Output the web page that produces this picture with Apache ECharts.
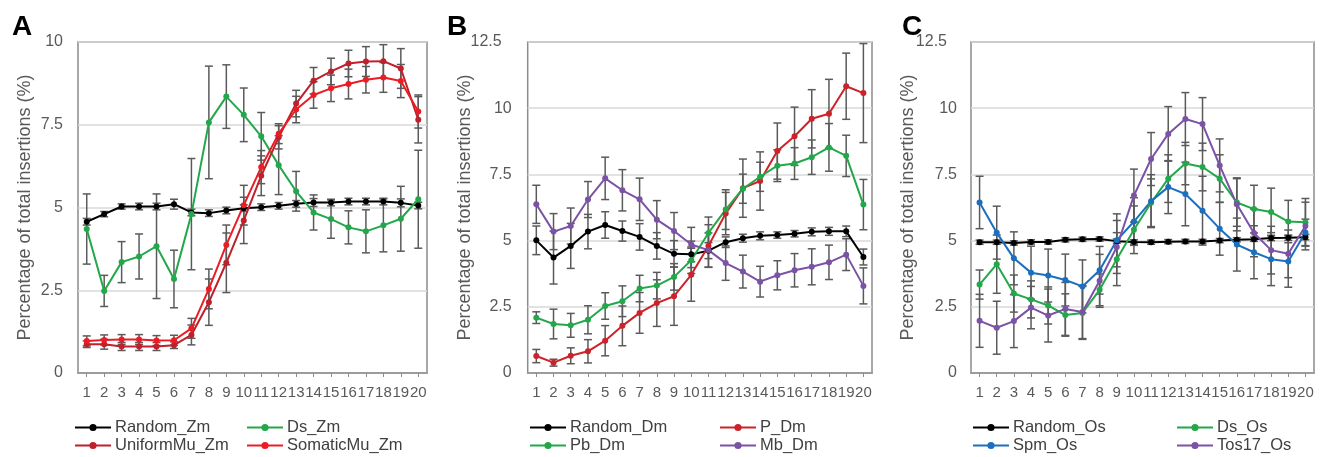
<!DOCTYPE html>
<html>
<head>
<meta charset="utf-8">
<script src="https://cdn.jsdelivr.net/npm/echarts/dist/echarts.min.js"></script>
<style>
html,body{margin:0;padding:0;background:#fff;}
#chart{width:1322px;height:457px;}
</style>
</head>
<body>
<div id="chart"></div>
<script>
// ---------- data ----------
const categories = ['1','2','3','4','5','6','7','8','9','10','11','12','13','14','15','16','17','18','19','20'];
const yAxisTitle = 'Percentage of total insertions (%)';
const panelLetters = ['A','B','C'];

// Panel A (Zm)
const randomZm     = [4.57,4.80,5.03,5.03,5.03,5.10,4.85,4.83,4.91,4.98,5.01,5.05,5.11,5.15,5.15,5.18,5.18,5.18,5.14,5.06];
const randomZmErr  = [0.10,0.08,0.08,0.10,0.10,0.15,0.10,0.10,0.10,0.10,0.10,0.10,0.10,0.12,0.10,0.10,0.10,0.10,0.12,0.10];
const dsZm         = [4.35,2.48,3.35,3.52,3.83,2.84,4.80,7.57,8.35,7.80,7.15,6.28,5.49,4.85,4.65,4.40,4.28,4.46,4.66,5.25];
const dsZmErr      = [1.06,0.47,0.62,0.68,1.58,0.87,1.68,1.70,0.96,0.81,0.72,0.89,0.60,0.53,0.58,0.50,0.65,0.80,0.98,1.48];
const uniformZm    = [0.87,0.87,0.80,0.80,0.80,0.84,1.15,2.14,3.33,4.61,5.96,7.12,8.14,8.83,9.11,9.35,9.41,9.42,9.20,7.65];
const uniformZmErr = [0.10,0.15,0.12,0.12,0.12,0.10,0.30,0.70,0.90,0.70,0.60,0.35,0.40,0.40,0.40,0.40,0.45,0.50,0.60,0.70];
const somaticZm    = [0.97,1.00,1.01,1.01,0.98,0.99,1.35,2.54,3.87,5.07,6.22,7.23,7.96,8.40,8.60,8.73,8.86,8.93,8.82,7.90];
const somaticZmErr = [0.15,0.15,0.15,0.15,0.15,0.15,0.30,0.60,0.60,0.60,0.50,0.30,0.40,0.40,0.40,0.45,0.40,0.45,0.50,0.50];

// Panel B (Dm)
const randomDm     = [5.01,4.36,4.80,5.34,5.59,5.36,5.14,4.80,4.50,4.48,4.62,4.94,5.09,5.18,5.21,5.26,5.33,5.35,5.35,4.38];
const randomDmErr  = [0.54,1.00,0.85,0.65,0.50,0.38,0.50,0.50,0.50,0.50,0.30,0.20,0.15,0.15,0.12,0.12,0.15,0.15,0.20,0.30];
const pDm          = [0.64,0.39,0.65,0.82,1.22,1.78,2.27,2.64,2.90,3.71,4.80,6.02,6.98,7.25,8.38,8.94,9.60,9.79,10.83,10.57];
const pDmErr       = [0.25,0.13,0.30,0.44,0.57,0.75,0.77,0.88,1.10,1.00,0.80,0.80,1.10,1.10,1.06,1.10,1.10,1.30,1.25,1.87];
const pbDm         = [2.09,1.85,1.80,2.01,2.53,2.71,3.19,3.30,3.63,4.26,5.29,6.17,6.96,7.41,7.83,7.91,8.15,8.52,8.20,6.36];
const pbDmErr      = [0.22,0.56,0.45,0.53,0.50,0.58,0.50,0.50,0.50,0.50,0.60,0.75,0.55,0.55,0.60,0.60,0.65,0.90,0.78,0.95];
const mbDm         = [6.37,5.34,5.55,6.55,7.35,6.90,6.56,5.79,5.36,4.85,4.64,4.15,3.83,3.45,3.69,3.88,4.01,4.18,4.47,3.29];
const mbDmErr      = [0.72,0.68,0.68,0.68,0.80,0.78,0.80,0.72,0.70,0.65,0.65,0.65,0.62,0.58,0.55,0.63,0.68,0.65,0.60,0.68];

// Panel C (Os)
const randomOs     = [4.94,4.94,4.91,4.95,4.95,5.03,5.05,5.06,4.98,4.95,4.94,4.96,4.97,4.97,5.00,5.03,5.05,5.10,5.11,5.13];
const randomOsErr  = [0.08,0.08,0.08,0.08,0.08,0.08,0.08,0.08,0.08,0.08,0.08,0.08,0.08,0.08,0.08,0.08,0.08,0.10,0.10,0.10];
const dsOs         = [3.34,4.11,3.00,2.78,2.55,2.19,2.27,3.14,4.30,5.41,6.43,7.34,7.91,7.78,7.34,6.44,6.19,6.08,5.72,5.69];
const dsOsErr      = [0.55,1.10,0.70,0.70,0.70,0.80,1.00,0.60,1.00,0.90,0.90,0.90,0.80,0.90,0.90,0.90,0.90,0.90,0.80,0.90];
const spmOs        = [6.44,5.30,4.33,3.79,3.68,3.51,3.27,3.88,5.01,5.72,6.49,7.02,6.76,6.13,5.45,4.85,4.56,4.30,4.21,5.31];
const spmOsErr     = [0.99,1.00,1.00,1.00,1.00,0.98,1.00,0.90,1.00,0.90,1.00,1.00,1.20,1.30,1.00,1.00,1.00,1.00,0.97,0.50];
const tosOs        = [1.97,1.71,1.96,2.47,2.17,2.42,2.30,3.48,4.76,6.70,8.08,9.03,9.59,9.40,7.84,6.37,5.29,4.64,4.50,5.55];
const tosOsErr     = [1.00,1.00,1.00,0.80,1.00,1.00,1.00,1.00,1.00,1.00,1.00,1.03,1.00,1.00,1.00,1.00,0.90,0.90,0.90,0.90];

const yMax = [10, 12.5, 12.5];

// ---------- styling / layout ----------
const C_BLACK = '#000000', C_GREEN = '#22a84a', C_DRED = '#c0202b', C_RED = '#ec1c24',
      C_PRED = '#cc2229', C_PURPLE = '#7b52a6', C_BLUE = '#1b6fbf';
const FONT = 'Liberation Sans, Arial, sans-serif';
const grids = [
  {left: 78,    top: 42, width: 349,   height: 331},
  {left: 527.7, top: 42, width: 344.3, height: 331},
  {left: 971,   top: 42, width: 343,   height: 331}
];

const panels = [
  [
    {name:'Random_Zm', v: randomZm, e: randomZmErr, c: C_BLACK, col:0,row:0},
    {name:'Ds_Zm', v: dsZm, e: dsZmErr, c: C_GREEN, col:1,row:0},
    {name:'UniformMu_Zm', v: uniformZm, e: uniformZmErr, c: C_DRED, col:0,row:1},
    {name:'SomaticMu_Zm', v: somaticZm, e: somaticZmErr, c: C_RED, col:1,row:1}
  ],
  [
    {name:'Random_Dm', v: randomDm, e: randomDmErr, c: C_BLACK, col:0,row:0},
    {name:'P_Dm', v: pDm, e: pDmErr, c: C_PRED, col:1,row:0},
    {name:'Pb_Dm', v: pbDm, e: pbDmErr, c: C_GREEN, col:0,row:1},
    {name:'Mb_Dm', v: mbDm, e: mbDmErr, c: C_PURPLE, col:1,row:1}
  ],
  [
    {name:'Random_Os', v: randomOs, e: randomOsErr, c: C_BLACK, col:0,row:0},
    {name:'Ds_Os', v: dsOs, e: dsOsErr, c: C_GREEN, col:1,row:0},
    {name:'Spm_Os', v: spmOs, e: spmOsErr, c: C_BLUE, col:0,row:1},
    {name:'Tos17_Os', v: tosOs, e: tosOsErr, c: C_PURPLE, col:1,row:1}
  ]
];
const legendCols = [[74, 246], [529, 719], [972, 1176]];
const legendRows = [419, 437];
const nameGaps = [44, 54, 54];
const labelMargins = [15, 16, 14];
const letterLeft = [7, 442, 897];

const series = [];
const legends = [];
const titles = [];
panels.forEach((p, pi) => {
  // error bars
  p.forEach(s => {
    series.push({
      type: 'custom', xAxisIndex: pi, yAxisIndex: pi, silent: true, z: 1,
      clip: false,
      data: s.v.map((v, i) => [i, v - s.e[i], v + s.e[i]]),
      encode: {x: 0, y: [1, 2]},
      renderItem: function (params, api) {
        const x = api.value(0);
        const lo = api.coord([x, api.value(1)]);
        const hi = api.coord([x, api.value(2)]);
        const w = 4;
        const st = {stroke: '#5a5a5a', lineWidth: 1.5};
        return {type: 'group', children: [
          {type: 'line', shape: {x1: lo[0], y1: lo[1], x2: hi[0], y2: hi[1]}, style: st},
          {type: 'line', shape: {x1: lo[0]-w, y1: lo[1], x2: lo[0]+w, y2: lo[1]}, style: st},
          {type: 'line', shape: {x1: hi[0]-w, y1: hi[1], x2: hi[0]+w, y2: hi[1]}, style: st}
        ]};
      }
    });
  });
  // lines
  p.forEach(s => {
    series.push({
      type: 'line', name: s.name, xAxisIndex: pi, yAxisIndex: pi, z: 3,
      data: s.v, symbol: 'circle', symbolSize: 6, showSymbol: true,
      lineStyle: {color: s.c, width: 2}, itemStyle: {color: s.c},
      animation: false
    });
    legends.push({
      data: [s.name], left: legendCols[pi][s.col], top: legendRows[s.row],
      itemWidth: 36, itemHeight: 9, itemGap: 0, padding: 0,
      textStyle: {fontSize: 16.5, color: '#404040', fontFamily: FONT, padding: [0,0,0,-1]},
      selectedMode: false
    });
  });
  titles.push({text: panelLetters[pi], left: letterLeft[pi], top: 8,
    textStyle: {fontSize: 28, fontWeight: 'bold', color: '#000', fontFamily: FONT}});
});

const option = {
  animation: false,
  backgroundColor: '#fff',
  title: titles,
  legend: legends,
  grid: grids.map(g => Object.assign({show: true, borderColor: '#8c8c8c', borderWidth: 1.5, backgroundColor: 'transparent'}, g)),
  xAxis: grids.map((g, i) => ({
    type: 'category', gridIndex: i, data: categories, boundaryGap: true,
    axisLine: {show: true, lineStyle: {color: '#8c8c8c', width: 1.5}},
    axisTick: {show: true, alignWithLabel: true, length: 4, lineStyle: {color: '#8c8c8c'}},
    axisLabel: {fontSize: 15, color: '#595959', fontFamily: FONT, margin: 12, interval: 0},
    splitLine: {show: false}
  })),
  yAxis: grids.map((g, i) => ({
    type: 'value', gridIndex: i, min: 0, max: yMax[i], interval: 2.5,
    name: yAxisTitle, nameLocation: 'middle', nameGap: nameGaps[i], nameRotate: 90,
    nameMoveOverlap: false,
    nameTextStyle: {fontSize: 18, color: '#595959', fontFamily: FONT},
    axisLine: {show: false}, axisTick: {show: false},
    axisLabel: {fontSize: 16, color: '#595959', fontFamily: FONT, margin: labelMargins[i],
      formatter: function (v) { return v === 12.5 ? '{t|12.5}' : String(v); },
      rich: {t: {fontSize: 16, color: '#595959', fontFamily: FONT, padding: [0, 10, 0, 0]}}},
    splitLine: {show: true, lineStyle: {color: '#d9d9d9', width: 1.5}}
  })),
  series: series
};

const chart = echarts.init(document.getElementById('chart'), null, {renderer: 'canvas'});
chart.setOption(option);
</script>
</body>
</html>
